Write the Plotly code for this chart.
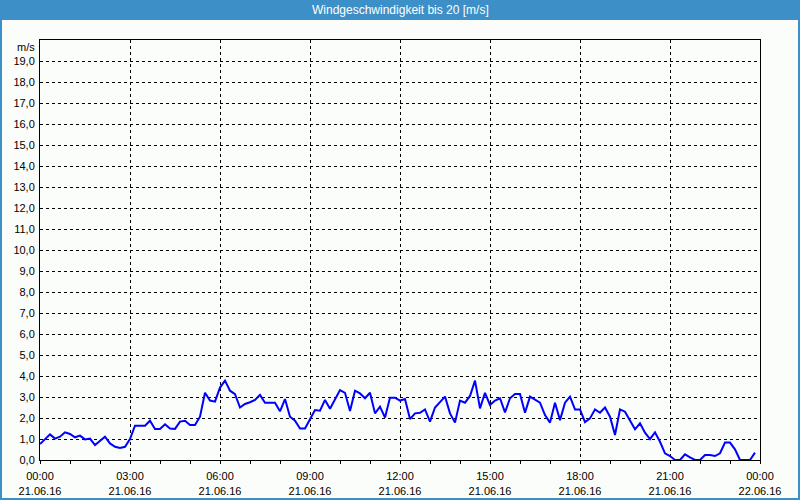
import plotly.graph_objects as go
import pandas as pd

# Wind speed samples every 10 minutes, 21.06.16 00:00 .. 23:50
wind = [
    0.76, 1.0, 1.22, 1.02, 1.11, 1.32, 1.24, 1.08, 1.16, 0.98,
    1.02, 0.71, 0.92, 1.11, 0.79, 0.63, 0.57, 0.63, 1.0, 1.63,
    1.63, 1.63, 1.87, 1.48, 1.48, 1.70, 1.5, 1.48, 1.83, 1.87,
    1.67, 1.67, 2.06, 3.2, 2.83, 2.78, 3.45, 3.78, 3.3, 3.14,
    2.5, 2.67, 2.75, 2.86, 3.1, 2.73, 2.73, 2.73, 2.32, 2.9,
    2.06, 1.87, 1.5, 1.5, 1.94, 2.38, 2.35, 2.86, 2.44, 2.89,
    3.33, 3.2, 2.33, 3.3, 3.17, 2.94, 3.2, 2.22, 2.54, 2.02,
    2.97, 2.97, 2.83, 2.9, 1.95, 2.22, 2.25, 2.41, 1.83, 2.5,
    2.78, 3.02, 2.22, 1.78, 2.83, 2.73, 3.05, 3.78, 2.46, 3.2,
    2.62, 2.83, 2.94, 2.27, 2.94, 3.14, 3.14, 2.25, 3.02, 2.89,
    2.73, 2.14, 1.78, 2.73, 1.9, 2.73, 3.02, 2.41, 2.41, 1.8,
    1.98, 2.41, 2.25, 2.5, 2.06, 1.19, 2.41, 2.3, 1.9, 1.46,
    1.75, 1.3, 1.0, 1.32, 0.87, 0.32, 0.19, 0.0, 0.0, 0.27,
    0.13, 0.0, 0.0, 0.24, 0.24, 0.19, 0.32, 0.83, 0.83, 0.51,
    0.0, 0.0, 0.0, 0.35,
]
times = pd.date_range("2016-06-21 00:00", periods=len(wind), freq="10min")

x_tick_vals = ["2016-06-21 00:00", "2016-06-21 03:00", "2016-06-21 06:00",
               "2016-06-21 09:00", "2016-06-21 12:00", "2016-06-21 15:00",
               "2016-06-21 18:00", "2016-06-21 21:00", "2016-06-22 00:00"]
x_tick_text = ["00:00<br>21.06.16", "03:00<br>21.06.16", "06:00<br>21.06.16",
               "09:00<br>21.06.16", "12:00<br>21.06.16", "15:00<br>21.06.16",
               "18:00<br>21.06.16", "21:00<br>21.06.16", "00:00<br>22.06.16"]
y_tick_vals = list(range(0, 20))
y_tick_text = ["0,0", "1,0", "2,0", "3,0", "4,0", "5,0", "6,0", "7,0", "8,0", "9,0",
               "10,0", "11,0", "12,0", "13,0", "14,0", "15,0", "16,0", "17,0", "18,0", "19,0"]

title_text = "Windgeschwindigkeit bis 20 [m/s]"
unit_text = "m/s"

BLUE = "#3d8fc7"
FONT = "Liberation Sans"

fig = go.Figure()
fig.add_trace(go.Scatter(x=times, y=wind, mode="lines",
                         line=dict(color="#0000ff", width=2), hoverinfo="skip"))

fig.update_layout(
    width=800, height=500,
    margin=dict(l=40, r=40, t=40, b=40, autoexpand=False),
    paper_bgcolor="#fbfdfb", plot_bgcolor="#fbfdfb",
    showlegend=False,
    font=dict(family=FONT, size=11, color="black"),
    xaxis=dict(
        range=["2016-06-21 00:00", "2016-06-22 00:00"],
        tickvals=x_tick_vals, ticktext=x_tick_text,
        showgrid=True, gridcolor="black", gridwidth=1, griddash="3px,3px",
        showline=True, linecolor="black", linewidth=1, mirror=True,
        ticks="outside", ticklen=3, tickcolor="black",
        minor=dict(dtick=3600000, ticks="outside", ticklen=3, tickcolor="black", showgrid=False),
        zeroline=False, fixedrange=True,
        ticklabelstandoff=3,
        tickfont=dict(family=FONT, size=11),
    ),
    yaxis=dict(
        range=[0, 20],
        tickvals=y_tick_vals, ticktext=y_tick_text,
        showgrid=True, gridcolor="black", gridwidth=1, griddash="3px,3px",
        showline=True, linecolor="black", linewidth=1, mirror=True,
        ticks="", ticklen=0,
        zeroline=False, fixedrange=True,
        ticklabelstandoff=2,
        tickfont=dict(family=FONT, size=11),
    ),
    shapes=[
        dict(type="rect", xref="paper", yref="paper",
             x0=-40/720, x1=1+40/720, y0=440/420, y1=460/420,
             fillcolor=BLUE, line=dict(width=0), layer="above"),
        dict(type="rect", xref="paper", yref="paper",
             x0=-40/720 + 1/720, x1=1+40/720 - 1/720, y0=-40/420 + 1/420, y1=460/420 - 1/420,
             fillcolor="rgba(0,0,0,0)", line=dict(color=BLUE, width=2), layer="above"),
    ],
    annotations=[
        dict(text=title_text, xref="paper", yref="paper", x=0.5, y=450/420,
             xanchor="center", yanchor="middle", showarrow=False,
             font=dict(family=FONT, size=12, color="white")),
        dict(text=unit_text, xref="paper", yref="paper", x=0, y=1,
             xanchor="right", yanchor="top", xshift=-3, yshift=1, showarrow=False,
             font=dict(family=FONT, size=11, color="black")),
    ],
)

fig.write_html("out.html", config={"displayModeBar": False},
               post_script="document.body.style.margin='0';document.body.style.padding='0';")
